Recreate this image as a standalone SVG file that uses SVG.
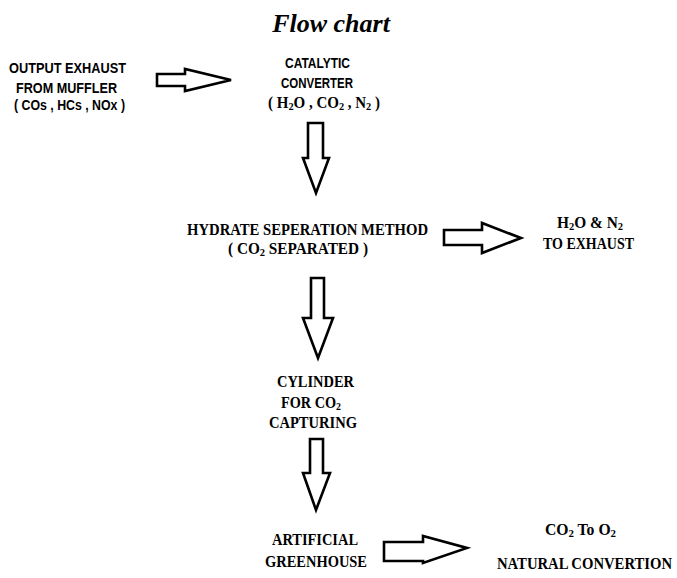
<svg xmlns="http://www.w3.org/2000/svg" width="677" height="578" viewBox="0 0 677 578">
<style>
.bg{fill:#fff}
.title{font-family:"Liberation Serif","Times New Roman",serif;font-weight:bold;font-style:italic;font-size:26px;fill:#000}
.sans{font-family:"Liberation Sans",Arial,sans-serif;font-weight:bold;font-size:15px;fill:#000}
.serif{font-family:"Liberation Serif","Times New Roman",serif;font-weight:bold;font-size:16px;fill:#000}
.sub{font-size:11px;baseline-shift:-1.5px}
.arrow{fill:#fff;stroke:#000;stroke-width:2.6;stroke-linejoin:miter}
</style>
<rect class="bg" x="0" y="0" width="677" height="578"/>
<text class="title" x="331" y="32" text-anchor="middle">Flow chart</text>

<g id="connectors">
<polygon class="arrow" points="157,74 185,74 185,69 231,80 185,91 185,86 157,86"/>
<polygon class="arrow" points="308,123 323,123 323,158 329,158 316,193 303,158 308,158"/>
<polygon class="arrow" points="444,230 482,230 482,223 521,238 482,253 482,245 444,245"/>
<polygon class="arrow" points="311,278 324,278 324,318 333,318 318,358 303,318 311,318"/>
<polygon class="arrow" points="310,439 323,439 323,473 330,473 316,510 303,473 310,473"/>
<polygon class="arrow" points="384,542 423,542 423,536 467,548 423,563 423,561 384,561"/>
</g>

<g id="node-exhaust">
<text class="sans" x="9" y="73" textLength="117" lengthAdjust="spacingAndGlyphs">OUTPUT EXHAUST</text>
<text class="sans" x="16" y="93" textLength="101" lengthAdjust="spacingAndGlyphs">FROM MUFFLER</text>
<text class="sans" x="14" y="110" textLength="111" lengthAdjust="spacingAndGlyphs">( COs , HCs , NOx )</text>
</g>

<g id="node-catalytic">
<text class="sans" x="285" y="68" textLength="65" lengthAdjust="spacingAndGlyphs">CATALYTIC</text>
<text class="sans" x="281" y="88" textLength="72" lengthAdjust="spacingAndGlyphs">CONVERTER</text>
<text class="serif" x="268" y="108" textLength="112" lengthAdjust="spacingAndGlyphs">(  H<tspan class="sub">2</tspan>O , CO<tspan class="sub">2</tspan> , N<tspan class="sub">2</tspan>  )</text>
</g>

<g id="node-hydrate">
<text class="serif" x="187" y="235" textLength="241" lengthAdjust="spacingAndGlyphs">HYDRATE SEPERATION METHOD</text>
<text class="serif" x="228" y="254" textLength="140" lengthAdjust="spacingAndGlyphs">(  CO<tspan class="sub">2</tspan> SEPARATED )</text>
</g>

<g id="node-exhaust-out">
<text class="serif" x="557" y="228" textLength="66" lengthAdjust="spacingAndGlyphs">H<tspan class="sub">2</tspan>O &amp; N<tspan class="sub">2</tspan></text>
<text class="serif" x="543" y="249" textLength="91" lengthAdjust="spacingAndGlyphs">TO EXHAUST</text>
</g>

<g id="node-cylinder">
<text class="serif" x="277" y="387" textLength="77" lengthAdjust="spacingAndGlyphs">CYLINDER</text>
<text class="serif" x="281" y="408" textLength="60" lengthAdjust="spacingAndGlyphs">FOR CO<tspan class="sub">2</tspan></text>
<text class="serif" x="269" y="428" textLength="88" lengthAdjust="spacingAndGlyphs">CAPTURING</text>
</g>

<g id="node-greenhouse">
<text class="serif" x="272" y="545" textLength="86" lengthAdjust="spacingAndGlyphs">ARTIFICIAL</text>
<text class="serif" x="265" y="567" textLength="102" lengthAdjust="spacingAndGlyphs">GREENHOUSE</text>
</g>

<g id="node-conversion">
<text class="serif" x="545" y="535" textLength="71" lengthAdjust="spacingAndGlyphs">CO<tspan class="sub">2</tspan> To O<tspan class="sub">2</tspan></text>
<text class="serif" x="497" y="569" textLength="175" lengthAdjust="spacingAndGlyphs">NATURAL CONVERTION</text>
</g>
</svg>
